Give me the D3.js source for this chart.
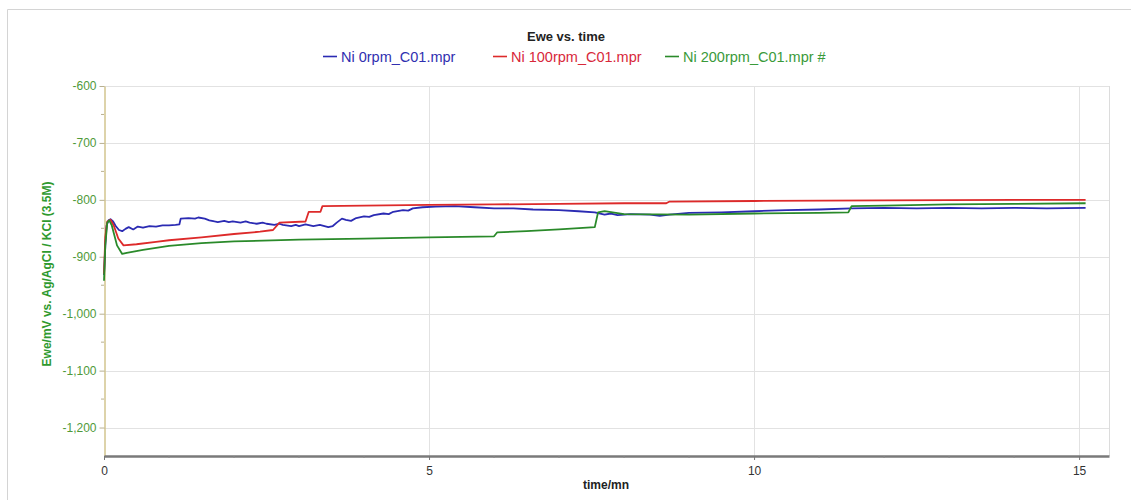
<!DOCTYPE html>
<html>
<head>
<meta charset="utf-8">
<script src="https://cdn.jsdelivr.net/npm/d3@7"></script>
<style>
  html, body { margin: 0; padding: 0; background: #fff; }
  svg { display: block; font-family: "Liberation Sans", Arial, sans-serif; }
</style>
</head>
<body>
<svg id="chart" width="1131" height="500"></svg>
<script>
// Open-circuit potential vs. time for three rotation rates (time in minutes, Ewe in mV)
const seriesNames = ["Ni 0rpm_C01.mpr", "Ni 100rpm_C01.mpr", "Ni 200rpm_C01.mpr #"];
const seriesColors = ["#2b2bb3", "#dd2a2a", "#2a8a2a"];
const legendColors = ["#3030b0", "#d8283a", "#3a9a3a"];

const ni0rpm = [
  [0.00,-932],[0.02,-880],[0.04,-845],[0.07,-836],[0.10,-834],[0.14,-838],[0.18,-846],[0.23,-853],
  [0.28,-855],[0.33,-851],[0.38,-848],[0.45,-852],[0.52,-847],[0.60,-849],[0.70,-846],[0.80,-847],
  [0.90,-845],[1.00,-845],[1.10,-844],[1.16,-843],[1.18,-833],[1.30,-832],[1.40,-833],[1.45,-831],
  [1.55,-833],[1.62,-836],[1.70,-838],[1.75,-839],[1.85,-837],[1.92,-839],[1.98,-838],[2.10,-840],
  [2.18,-838],[2.24,-840],[2.35,-842],[2.44,-840],[2.50,-842],[2.62,-844],[2.70,-842],[2.75,-844],
  [2.88,-846],[2.95,-844],[3.00,-846],[3.10,-843],[3.22,-846],[3.32,-844],[3.45,-848],[3.52,-846],
  [3.58,-840],[3.66,-833],[3.72,-835],[3.80,-837],[3.88,-832],[4.00,-829],[4.08,-830],[4.15,-827],
  [4.30,-824],[4.38,-825],[4.45,-821],[4.60,-818],[4.68,-819],[4.75,-815],[4.90,-813],[5.10,-812],
  [5.40,-811],[5.70,-813],[6.00,-815],[6.30,-815],[6.60,-817],[7.00,-818],[7.30,-820],[7.55,-822],
  [7.70,-826],[7.80,-824],[7.90,-827],[8.10,-825],[8.40,-826],[8.55,-828],[8.70,-826],[9.00,-823],
  [9.50,-822],[10.0,-820],[10.5,-818],[11.0,-817],[11.5,-815],[12.0,-814],[12.5,-815],[13.0,-814],
  [13.5,-815],[14.0,-814],[14.5,-815],[15.1,-814]
];

const ni100rpm = [
  [0.00,-930],[0.02,-865],[0.05,-838],[0.10,-835],[0.15,-845],[0.22,-868],[0.30,-880],[0.50,-878],
  [0.80,-874],[1.00,-871],[1.50,-866],[2.00,-860],[2.40,-856],[2.60,-853],[2.70,-840],[3.10,-838],
  [3.15,-821],[3.33,-821],[3.36,-811],[4.00,-810],[5.00,-809],[6.00,-808],[7.00,-807],[8.00,-806],
  [8.65,-806],[8.70,-803],[10.0,-802],[12.0,-801],[14.0,-800],[15.1,-800]
];

const ni200rpm = [
  [0.00,-942],[0.02,-880],[0.05,-840],[0.08,-836],[0.12,-845],[0.20,-880],[0.28,-895],[0.35,-893],
  [0.60,-888],[1.00,-881],[1.50,-876],[2.00,-873],[3.00,-870],[4.00,-868],[5.00,-866],[6.00,-864],
  [6.05,-857],[6.50,-855],[7.00,-852],[7.55,-848],[7.60,-822],[7.70,-820],[8.00,-825],[9.00,-826],
  [10.0,-824],[11.0,-823],[11.45,-822],[11.50,-811],[12.0,-810],[13.0,-808],[14.0,-807],[15.1,-806]
];

const seriesData = [ni0rpm, ni100rpm, ni200rpm];

const xTicks = [0, 5, 10, 15];
const yTicks = [-600, -700, -800, -900, -1000, -1100, -1200];
const xMinorTicks = [1, 2, 3, 4, 6, 7, 8, 9, 11, 12, 13, 14];
const yMinorTicks = [-650, -750, -850, -950, -1050, -1150];

const titleText = "Ewe vs. time";
const xTitle = "time/mn";
const yTitle = "Ewe/mV vs. Ag/AgCl / KCl (3.5M)";

const svg = d3.select("#chart");
const plot = { left: 104, right: 1109, top: 86, bottom: 456 };

const x = d3.scaleLinear().domain([0, 15.46]).range([plot.left, plot.right]);
const y = d3.scaleLinear().domain([-1250, -600]).range([plot.bottom, plot.top]);

const fmt = d3.formatLocale({ decimal: ".", thousands: ",", grouping: [3], currency: ["", ""], minus: "-" }).format(",");

// outer frame
svg.append("path")
  .attr("d", `M7.5,500 V9.5 H1131`)
  .attr("fill", "none").attr("stroke", "#d4d4d4").attr("stroke-width", 1);

// grid
const grid = svg.append("g");
grid.selectAll("line.h").data(yTicks).join("line")
  .attr("x1", plot.left).attr("x2", plot.right)
  .attr("y1", d => Math.round(y(d)) + 0.5).attr("y2", d => Math.round(y(d)) + 0.5)
  .attr("stroke", "#e2e2e2");
grid.selectAll("line.v").data(xTicks.filter(d => d > 0)).join("line")
  .attr("x1", d => Math.round(x(d)) + 0.5).attr("x2", d => Math.round(x(d)) + 0.5)
  .attr("y1", plot.top).attr("y2", plot.bottom)
  .attr("stroke", "#e2e2e2");
// right border
svg.append("line")
  .attr("x1", plot.right + 0.5).attr("x2", plot.right + 0.5)
  .attr("y1", plot.top).attr("y2", plot.bottom)
  .attr("stroke", "#dcdcdc");

// y axis
const yAxis = svg.append("g").attr("transform", `translate(${plot.left + 0.5},0)`)
  .call(d3.axisLeft(y).tickValues(yTicks).tickFormat(fmt).tickSize(5).tickSizeOuter(0).tickPadding(3));
yAxis.select(".domain").attr("stroke", "#d2c58e").attr("stroke-width", 1.5);
yAxis.selectAll(".tick line").attr("stroke", "#b8b090");
yAxis.selectAll(".tick text").attr("fill", "#4f9a3a").attr("font-size", 12)
  .attr("font-family", "Liberation Sans, Arial, sans-serif");
svg.append("g").selectAll("line").data(yMinorTicks).join("line")
  .attr("x1", plot.left - 3).attr("x2", plot.left)
  .attr("y1", d => y(d)).attr("y2", d => y(d))
  .attr("stroke", "#b8b090");

// x axis
const xAxis = svg.append("g").attr("transform", `translate(0,${plot.bottom})`)
  .call(d3.axisBottom(x).tickValues(xTicks).tickFormat(d3.format("d")).tickSize(4).tickSizeOuter(0).tickPadding(6));
xAxis.select(".domain").attr("stroke", "#7a7a7a").attr("stroke-width", 2.5);
xAxis.selectAll(".tick line").attr("stroke", "#777");
xAxis.selectAll(".tick text").attr("fill", "#333").attr("font-size", 12)
  .attr("font-family", "Liberation Sans, Arial, sans-serif");
svg.append("g").selectAll("line").data(xMinorTicks).join("line")
  .attr("x1", d => x(d)).attr("x2", d => x(d))
  .attr("y1", plot.bottom).attr("y2", plot.bottom + 2)
  .attr("stroke", "#888");

// series
const line = d3.line().x(d => x(d[0])).y(d => y(d[1]));
svg.append("g").selectAll("path").data(seriesData).join("path")
  .attr("d", line)
  .attr("fill", "none")
  .attr("stroke", (d, i) => seriesColors[i])
  .attr("stroke-width", 1.8)
  .attr("stroke-linejoin", "round");

// title
svg.append("text").attr("x", 566).attr("y", 41).attr("text-anchor", "middle")
  .attr("font-size", 13).attr("font-weight", "bold").attr("fill", "#222").text(titleText);

// legend
const legendX = [323, 493, 665];
const legend = svg.append("g");
seriesNames.forEach((name, i) => {
  legend.append("line")
    .attr("x1", legendX[i]).attr("x2", legendX[i] + 14)
    .attr("y1", 56.5).attr("y2", 56.5)
    .attr("stroke", seriesColors[i]).attr("stroke-width", 1.6);
  legend.append("text")
    .attr("x", legendX[i] + 18).attr("y", 61.5)
    .attr("font-size", 14.5).attr("fill", legendColors[i]).text(name);
});

// axis titles
svg.append("text").attr("x", 606).attr("y", 489).attr("text-anchor", "middle")
  .attr("font-size", 12).attr("font-weight", "bold").attr("fill", "#222").text(xTitle);
svg.append("text")
  .attr("transform", `translate(51,${(plot.top + plot.bottom) / 2 + 3}) rotate(-90)`)
  .attr("text-anchor", "middle")
  .attr("font-size", 12).attr("font-weight", "bold").attr("fill", "#2f9a2f").text(yTitle);
</script>
</body>
</html>
